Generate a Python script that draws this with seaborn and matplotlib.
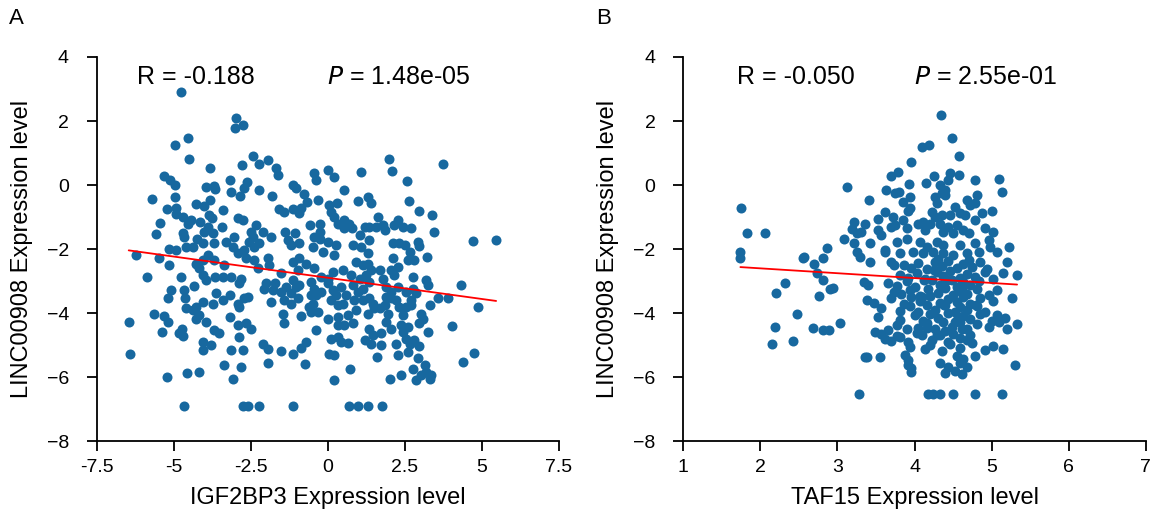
import numpy as np
import pandas as pd
import seaborn as sns
import matplotlib
matplotlib.use("Agg")
import matplotlib.pyplot as plt

# ---- data: (expression of gene, LINC00908 expression) ----
igf2bp3_pts = [
    (-4.75, 2.90), (-4.97, 1.25), (-4.54, 1.46), (-4.49, 0.80), (-3.81, 0.52), (-5.32, 0.28), (-5.12, 0.16), (-4.97, 0.00),
    (-5.71, -0.44), (-4.97, -0.38), (-3.95, -0.07), (-3.68, -0.03), (-3.66, -0.13), (-3.19, 0.16), (-3.14, -0.21), (-3.81, -0.47),
    (-4.28, -0.60), (-4.03, -0.66), (-5.22, -0.76), (-4.93, -0.71), (-4.93, -0.91), (-5.44, -1.17), (-5.57, -1.54), (-4.69, -0.99),
    (-4.44, -1.09), (-4.55, -1.20), (-3.84, -0.94), (-3.76, -1.04), (-4.14, -1.15), (-3.90, -1.30), (-4.01, -1.46), (-3.71, -1.51),
    (-3.41, -0.78), (-3.43, -1.30), (-4.71, -1.51), (-4.66, -1.62), (-4.24, -1.67), (-4.06, -1.82), (-3.68, -1.82), (-3.30, -1.77),
    (-3.03, -1.62), (-3.08, -1.93), (-5.14, -1.98), (-4.60, -1.93), (-4.38, -1.93),
    (-6.22, -2.17), (-5.47, -2.29), (-5.14, -2.48), (-4.93, -2.03), (-5.88, -2.88), (-4.76, -2.88), (-4.17, -2.58), (-4.28, -2.45),
    (-4.06, -2.34), (-3.90, -2.19), (-3.68, -2.34), (-3.36, -2.48), (-4.06, -2.81), (-3.95, -2.97), (-3.65, -2.88), (-3.41, -2.88),
    (-3.14, -2.88), (-5.09, -3.28), (-5.19, -3.54), (-4.66, -3.28), (-4.62, -3.54), (-4.33, -3.15), (-4.06, -3.65), (-4.28, -3.80),
    (-4.38, -3.91), (-4.60, -3.85), (-4.17, -4.06), (-3.95, -4.27), (-4.28, -4.17), (-3.63, -3.38), (-3.73, -3.70), (-3.41, -3.59),
    (-3.19, -3.44), (-5.63, -4.01), (-5.31, -4.09), (-5.19, -4.29), (-6.46, -4.29), (-5.39, -4.58), (-4.82, -4.63), (-4.69, -4.71),
    (-4.73, -4.48), (-3.68, -4.53), (-3.52, -4.63), (-3.19, -4.12), (-4.06, -4.90), (-3.79, -4.98), (-4.06, -5.16), (-3.14, -5.16),
    (-6.42, -5.26), (-3.36, -5.63), (-5.23, -5.99), (-4.58, -5.88), (-4.17, -5.85), (-3.08, -6.06), (-4.66, -6.91),
    (-2.98, 2.08), (-3.01, 1.77), (-2.76, 1.88), (-2.44, 0.92), (-2.78, 0.63), (-2.22, 0.65), (-1.93, 0.78), (-1.68, 0.52),
    (-1.62, 0.33), (-2.62, 0.10), (-2.71, -0.10), (-2.84, -0.34), (-2.22, -0.16), (-1.82, -0.33), (-1.14, 0.00), (-1.03, -0.10),
    (-0.78, -0.28), (-0.45, 0.37), (-0.38, 0.16), (0.02, 0.47), (0.21, 0.26), (0.51, -0.16), (0.97, -0.49), (1.30, -0.38),
    (1.08, 0.42), (-0.31, -0.45), (-0.67, -0.54), (-0.87, -0.71), (-0.92, -0.88), (-1.14, -0.76), (-1.41, -0.83), (-1.60, -0.75),
    (0.05, -0.63), (0.30, -0.57), (0.11, -0.83), (0.21, -0.99), (0.32, -1.20), (0.54, -1.09), (0.70, -1.20), (0.78, -1.35),
    (0.54, -1.35), (-0.57, -1.25), (-0.27, -1.20), (-0.27, -1.46), (-0.44, -1.62), (-2.92, -1.04), (-2.76, -1.09), (-2.55, -1.77),
    (-2.33, -1.25), (-2.49, -1.46), (-2.44, -1.62), (-2.11, -1.46), (-1.84, -1.62), (-2.22, -1.82), (-1.38, -1.46), (-1.30, -1.72),
    (-1.08, -1.51), (-1.19, -1.88), (-0.92, -1.82), (-0.27, -1.67), (0.00, -1.77), (0.27, -1.88), (-0.49, -1.93), (1.03, -1.56),
    (1.19, -1.30), (0.81, -1.88), (1.08, -1.93),
    (-2.71, -2.03), (-2.38, -1.93), (-0.16, -2.08), (0.21, -2.19), (-2.92, -2.13), (-2.65, -2.29), (-2.38, -2.34), (-1.95, -2.29),
    (-1.90, -2.50), (-2.27, -2.60), (-1.14, -2.40), (-0.92, -2.29), (-0.70, -2.45), (-0.97, -2.66), (-1.52, -2.73), (-0.44, -2.60),
    (-0.22, -2.87), (0.00, -2.92), (0.16, -2.71), (0.49, -2.66), (0.76, -2.81), (0.92, -2.40), (1.14, -2.50), (1.24, -2.81),
    (1.03, -2.92), (-2.81, -2.92), (-2.87, -3.07), (-2.00, -3.07), (-2.06, -3.23), (-1.73, -3.07), (-1.79, -3.28), (-1.52, -3.33),
    (-1.35, -3.18), (-1.14, -2.97), (-1.03, -3.18), (-1.19, -3.38), (-0.92, -3.13), (-1.84, -3.65), (-1.41, -3.59), (-1.19, -3.70),
    (-0.97, -3.54), (-0.54, -3.02), (-0.44, -3.23), (-0.54, -3.44), (-0.38, -3.44), (-0.49, -3.70), (-0.32, -3.96), (-0.54, -3.96),
    (-0.60, -3.80), (-0.22, -3.33), (0.00, -3.07), (0.16, -3.28), (0.11, -3.59), (0.27, -3.44), (0.43, -3.18), (0.59, -3.44),
    (0.49, -3.70), (0.32, -3.75), (0.81, -3.13), (0.97, -3.33), (1.14, -3.23), (0.86, -3.59), (1.14, -3.59), (0.92, -3.91),
    (-2.92, -3.70), (-2.71, -3.54), (-2.60, -3.49), (-2.87, -3.80), (-1.46, -4.01), (-0.87, -4.09), (-1.43, -4.32), (-2.92, -4.38),
    (-2.65, -4.32), (-2.49, -4.48), (0.00, -4.17), (0.32, -4.12), (0.32, -4.38), (0.54, -4.38), (0.65, -4.06), (0.81, -4.32),
    (-0.38, -4.53), (-2.87, -4.74), (-2.11, -4.95), (-1.95, -5.13), (-1.52, -5.18), (-1.14, -5.28), (-0.87, -5.10), (-0.70, -4.90),
    (0.11, -4.79), (0.32, -4.74), (0.43, -4.90), (0.65, -4.92), (0.05, -5.26), (0.21, -5.31), (1.19, -4.84), (-2.76, -5.16),
    (-2.81, -5.68), (-1.93, -5.54), (-0.74, -5.60), (0.73, -5.73), (0.21, -6.09), (-2.76, -6.91), (-2.58, -6.91), (-2.22, -6.91),
    (-1.14, -6.91), (0.70, -6.91), (0.97, -6.91), (1.29, -6.91), (1.76, -6.91),
    (1.98, 0.83), (2.09, 0.45), (3.73, 0.65), (2.56, 0.13), (1.41, -0.57), (2.63, -0.49), (2.95, -0.81), (3.38, -0.94),
    (1.62, -0.99), (2.16, -1.25), (2.27, -1.09), (2.45, -1.30), (2.70, -1.35), (1.35, -1.30), (1.57, -1.30), (1.79, -1.25),
    (1.84, -1.41), (3.43, -1.48), (1.35, -1.72), (2.11, -1.82), (2.32, -1.82), (2.49, -1.88), (2.92, -1.77), (2.97, -1.90),
    (4.71, -1.76), (5.46, -1.70),
    (2.65, -2.08), (2.81, -2.34), (2.60, -2.34), (3.21, -2.24), (2.11, -2.29), (2.06, -2.66), (2.27, -2.55), (2.16, -2.81),
    (1.30, -2.13), (1.30, -2.45), (1.41, -2.66), (1.68, -2.66), (1.79, -2.92), (1.35, -3.02), (2.76, -2.88), (3.19, -2.95),
    (3.25, -3.13), (1.89, -3.18), (2.06, -3.33), (2.27, -3.18), (2.06, -3.54), (1.89, -3.49), (2.22, -3.59), (2.32, -3.80),
    (1.84, -3.75), (1.68, -3.85), (1.95, -4.01), (1.51, -3.85), (2.54, -3.33), (2.76, -3.23), (2.87, -3.38), (2.70, -3.59),
    (2.54, -3.80), (2.70, -3.75), (2.44, -4.06), (1.35, -3.54), (1.46, -3.70), (1.30, -4.01), (3.57, -3.51), (3.90, -3.54),
    (3.30, -3.73), (4.31, -3.13), (4.87, -3.80), (3.03, -4.01), (3.08, -4.17), (2.97, -4.32), (1.89, -4.27), (2.06, -4.48),
    (1.73, -4.63), (1.35, -4.48), (1.46, -4.69), (2.38, -4.38), (2.60, -4.43), (2.44, -4.58), (2.54, -4.79), (2.81, -4.84),
    (2.65, -4.95), (3.25, -4.60), (4.04, -4.40), (1.41, -4.95), (1.73, -5.00), (2.22, -4.95), (2.97, -5.02), (1.59, -5.38),
    (2.27, -5.31), (2.60, -5.21), (2.92, -5.40), (4.73, -5.24), (4.40, -5.52), (3.14, -5.63), (2.76, -5.73), (3.19, -5.83),
    (3.03, -5.94), (3.35, -5.92), (2.87, -6.09), (3.30, -6.06), (2.38, -5.94), (2.02, -6.07),
]

taf15_pts = [
    (3.12, -0.07), (1.75, -0.73), (1.83, -1.49), (2.06, -1.49), (1.74, -2.08), (3.22, -1.15), (3.19, -1.38), (3.25, -1.51),
    (3.31, -1.46), (3.36, -1.20), (3.09, -1.67), (3.22, -1.82), (2.87, -1.96), (3.25, -2.08), (2.56, -2.24),
    (1.74, -2.29), (2.55, -2.27), (2.81, -2.29), (2.69, -2.47), (2.74, -2.73), (2.81, -2.97), (2.32, -3.07), (2.20, -3.38),
    (2.76, -3.46), (2.90, -3.23), (2.94, -3.20), (2.47, -4.03), (2.19, -4.43), (2.68, -4.46), (2.81, -4.51), (2.89, -4.53),
    (3.03, -4.32), (2.15, -4.95), (2.42, -4.87), (3.29, -2.26), (3.34, -3.02), (3.36, -5.38),
    (4.34, 2.19), (4.48, 1.46), (4.10, 1.18), (4.19, 1.25), (4.58, 0.91), (3.95, 0.71), (3.69, 0.28), (3.78, 0.42),
    (4.25, 0.28), (4.46, 0.37), (4.58, 0.33), (4.78, 0.16), (5.09, 0.19), (5.13, -0.23), (4.15, 0.07), (3.93, 0.02),
    (3.63, -0.16), (3.75, -0.26), (3.80, -0.23), (3.94, -0.37), (4.33, 0.00), (4.40, -0.16), (4.44, 0.16), (4.35, -0.26),
    (4.27, -0.37), (4.29, -0.57), (4.40, -0.31), (3.41, -0.45), (3.85, -0.54), (3.94, -0.71), (3.92, -0.81), (3.62, -0.83),
    (3.72, -0.99), (3.53, -1.07), (4.68, -0.47), (4.81, -0.31), (4.78, -0.57), (4.72, -0.63), (4.59, -0.88), (4.66, -0.94),
    (4.53, -0.68), (4.87, -0.88), (5.00, -0.81), (4.78, -1.09), (4.22, -0.83), (4.27, -0.99), (4.35, -0.94), (4.46, -0.94),
    (3.53, -1.41), (3.70, -1.30), (3.85, -1.09), (3.90, -1.35), (3.75, -1.25), (4.05, -1.20), (4.11, -1.15), (4.20, -1.20),
    (4.14, -1.41), (4.33, -1.20), (4.44, -1.30), (4.55, -1.25), (4.37, -1.46), (4.50, -1.51), (4.63, -1.41), (4.70, -1.51),
    (4.91, -1.35), (5.02, -1.46), (4.96, -1.72), (3.57, -1.56), (3.42, -1.82), (3.62, -2.03), (3.77, -1.77), (3.90, -1.69),
    (4.07, -1.77), (4.16, -1.93), (4.29, -1.77), (4.37, -1.88), (4.59, -1.88), (4.78, -1.82), (4.98, -1.93), (5.22, -1.93),
    (5.07, -2.08),
    (3.62, -2.08), (3.81, -2.13), (3.98, -2.08), (4.11, -2.13), (4.24, -2.08), (4.37, -2.13), (4.50, -2.19), (4.68, -2.13),
    (4.83, -2.08), (3.42, -2.40), (3.70, -2.40), (3.73, -2.50), (5.20, -2.40), (5.33, -2.81), (3.40, -3.13),
    (3.86, -2.50), (3.96, -2.58), (4.05, -2.44), (4.16, -2.62), (4.27, -2.40), (4.35, -2.54), (4.44, -2.38), (4.55, -2.60),
    (4.63, -2.47), (4.74, -2.56), (4.85, -2.41), (4.94, -2.61),
    (3.81, -2.81), (3.92, -2.89), (4.03, -2.75), (4.14, -2.93), (4.29, -2.71), (4.37, -2.85), (4.46, -2.69), (4.59, -2.91),
    (4.68, -2.78), (4.79, -2.87), (4.92, -2.72), (5.02, -2.92), (5.15, -2.76),
    (3.66, -3.07), (3.77, -3.15), (3.90, -3.01), (4.01, -3.19), (4.22, -2.97), (4.33, -3.11), (4.42, -2.95), (4.55, -3.17),
    (4.63, -3.04), (4.72, -3.13), (4.83, -2.98),
    (3.73, -3.33), (3.83, -3.41), (3.94, -3.27), (4.07, -3.45), (4.18, -3.23), (4.31, -3.37), (4.40, -3.21), (4.50, -3.43),
    (4.59, -3.30), (4.68, -3.39), (4.81, -3.24), (4.96, -3.44), (5.07, -3.28),
    (3.38, -3.59), (3.47, -3.67), (3.70, -3.53), (3.86, -3.71), (3.96, -3.49), (4.07, -3.63), (4.20, -3.47), (4.33, -3.69),
    (4.44, -3.56), (4.55, -3.65), (4.63, -3.50), (4.72, -3.70), (4.85, -3.54), (5.02, -3.61), (5.26, -3.51),
    (3.57, -3.85), (3.81, -3.93), (3.94, -3.79), (4.05, -3.97), (4.16, -3.75), (4.27, -3.89), (4.40, -3.73), (4.53, -3.95),
    (4.59, -3.82), (4.68, -3.91), (4.81, -3.76), (4.92, -3.96),
    (3.53, -4.12), (3.81, -4.20), (4.01, -4.06), (4.11, -4.24), (4.20, -4.02), (4.31, -4.16), (4.44, -4.00), (4.55, -4.22),
    (4.63, -4.09), (4.72, -4.18), (4.85, -4.03), (5.00, -4.23), (5.07, -4.07), (5.17, -4.14),
    (3.77, -4.38), (4.05, -4.46), (4.16, -4.32), (4.27, -4.50), (4.37, -4.28), (4.48, -4.42), (4.59, -4.26), (4.68, -4.48),
    (4.81, -4.35), (4.96, -4.44), (5.09, -4.29), (5.20, -4.49), (5.33, -4.33),
    (3.49, -4.58), (3.57, -4.66), (3.66, -4.52), (3.77, -4.70), (3.90, -4.48), (4.03, -4.62), (4.16, -4.46), (4.29, -4.68),
    (4.40, -4.55), (4.50, -4.64), (4.61, -4.49), (4.72, -4.69),
    (3.62, -4.79), (3.70, -4.87), (3.81, -4.73), (3.92, -4.91), (4.09, -4.69), (4.22, -4.83), (4.33, -4.67), (4.44, -4.89),
    (4.59, -4.76), (4.68, -4.85),
    (3.94, -5.05), (4.14, -5.13), (4.20, -4.99), (4.35, -5.17), (4.46, -4.95), (4.59, -5.09), (4.74, -4.93), (4.92, -5.15),
    (5.02, -5.02), (5.15, -5.11),
    (3.38, -5.37), (3.55, -5.37), (3.88, -5.31), (3.92, -5.45), (4.55, -5.33), (4.63, -5.43), (4.79, -5.35),
    (3.92, -5.63), (3.96, -5.71), (4.33, -5.57), (4.44, -5.69), (4.59, -5.55), (4.68, -5.67), (5.30, -5.63),
    (3.96, -5.83), (4.40, -5.87), (4.53, -5.79), (4.61, -5.91),
    (4.25, -2.65), (4.48, -2.95), (4.62, -3.20), (4.10, -3.50), (4.38, -3.75), (4.52, -4.28), (4.30, -2.30), (4.70, -2.35),
    (4.12, -2.95), (4.80, -3.75),
    (3.28, -6.52), (4.18, -6.52), (4.24, -6.52), (4.33, -6.52), (4.50, -6.52), (4.79, -6.52), (5.13, -6.52),
]

panels = ["A", "B"]
x_labels = ["IGF2BP3 Expression level", "TAF15 Expression level"]
y_label = "LINC00908 Expression level"
r_texts = ["R = -0.188", "R = -0.050"]
p_values = ["1.48e-05", "2.55e-01"]
x_ticks = [[-7.5, -5, -2.5, 0, 2.5, 5, 7.5], [1, 2, 3, 4, 5, 6, 7]]
x_ticklabels = [["-7.5", "-5", "-2.5", "0", "2.5", "5", "7.5"], ["1", "2", "3", "4", "5", "6", "7"]]
y_ticks = [-8, -6, -4, -2, 0, 2, 4]

dot_color = "#17689f"

sns.set_theme(style="ticks")
plt.rcParams['font.family'] = ['Liberation Sans', 'DejaVu Sans']
plt.rcParams['text.color'] = 'black'
plt.rcParams['axes.labelcolor'] = 'black'

fig = plt.figure(figsize=(11.59, 5.31), dpi=100)
ax_a = fig.add_axes([0.0834, 0.1689, 0.3989, 0.7238])
ax_b = fig.add_axes([0.5896, 0.1689, 0.3990, 0.7238])

datasets = [pd.DataFrame(igf2bp3_pts, columns=["gene", "linc"]),
            pd.DataFrame(taf15_pts, columns=["gene", "linc"])]
r_pos = [0.087, 0.116]
p_pos = [0.498, 0.499]
letter_x = [0.008, 0.514]

for i, ax in enumerate([ax_a, ax_b]):
    df = datasets[i]
    sns.scatterplot(data=df, x="gene", y="linc", ax=ax, color=dot_color,
                    s=52, linewidth=0, alpha=1, zorder=2)
    sns.regplot(data=df, x="gene", y="linc", ax=ax, scatter=False, ci=None,
                line_kws={"color": "red", "lw": 1.3, "zorder": 3})
    ax.set_xlim(x_ticks[i][0], x_ticks[i][-1])
    ax.set_ylim(-8, 4)
    ax.set_xticks(x_ticks[i])
    ax.set_xticklabels(x_ticklabels[i])
    ax.set_yticks(y_ticks)
    ax.set_xlabel(x_labels[i], fontsize=17, labelpad=8)
    ax.set_ylabel(y_label, fontsize=17, labelpad=10)
    ax.tick_params(axis="both", direction="out", length=7, width=1.3, colors="black", labelsize=14)
    ax.tick_params(axis="x", pad=6)
    ax.tick_params(axis="y", pad=13)
    sns.despine(ax=ax)
    for side in ["left", "bottom"]:
        ax.spines[side].set_linewidth(1.3)
        ax.spines[side].set_color("black")
    ax.text(r_pos[i], 0.948, r_texts[i], transform=ax.transAxes, fontsize=18, va="center", ha="left")
    ax.text(p_pos[i], 0.948, r"$\it{P}$ = " + p_values[i], transform=ax.transAxes,
            fontsize=18, va="center", ha="left")
    fig.text(letter_x[i], 0.966, panels[i], fontsize=16, va="center", ha="left")

fig.savefig("out.png", dpi=100)
